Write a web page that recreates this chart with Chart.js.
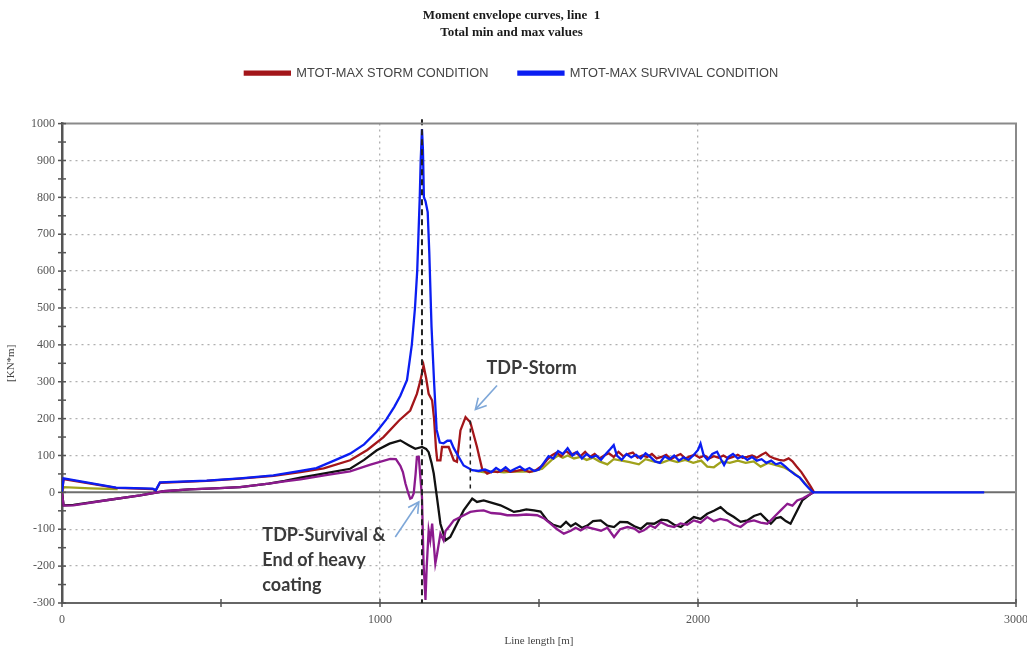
<!DOCTYPE html>
<html><head><meta charset="utf-8">
<script src="https://cdn.jsdelivr.net/npm/chart.js@4.4.1/dist/chart.umd.min.js"></script>
<style>html,body{margin:0;padding:0;background:#fff;}#wrap{width:1027px;height:654px;}</style>
</head><body><div id="wrap"><canvas id="c" width="1027" height="654"></canvas></div>
<script>
// ---- data: [line length (m), moment (kN*m)] ----
const stormMax = [[0,0],[5,36],[170,12],[285,9],[295,5],[308,26],[455,31],[560,37],[665,45],[750,55],[823,65],[906,87],[960,115],[1011,150],[1060,195],[1095,222],[1116,267],[1127,303],[1137,344],[1145,310],[1153,267],[1164,249],[1170,200],[1176,120],[1180,87],[1190,87],[1195,123],[1216,123],[1232,87],[1242,83],[1253,168],[1269,204],[1284,190],[1305,123],[1321,64],[1337,51],[1355,57],[1370,55],[1390,60],[1410,56],[1430,58],[1450,62],[1470,55],[1490,60],[1510,72],[1525,88],[1540,100],[1555,108],[1570,98],[1585,112],[1600,102],[1615,108],[1630,98],[1645,110],[1660,96],[1675,104],[1690,92],[1705,100],[1720,106],[1735,96],[1750,110],[1765,98],[1780,104],[1795,108],[1810,94],[1825,100],[1840,96],[1855,104],[1870,92],[1885,96],[1900,102],[1915,90],[1930,98],[1945,104],[1960,92],[1975,98],[1990,102],[2005,94],[2020,100],[2035,92],[2050,98],[2065,94],[2080,100],[2095,92],[2110,96],[2125,102],[2140,94],[2155,96],[2170,100],[2185,94],[2200,102],[2213,108],[2225,98],[2240,92],[2255,88],[2270,86],[2285,92],[2297,84],[2310,70],[2325,55],[2340,35],[2355,15],[2365,0]];
const survivalMax = [[0,0],[5,38],[170,13],[285,10],[295,6],[308,27],[455,32],[560,38],[665,46],[750,58],[800,66],[850,84],[906,105],[950,130],[990,165],[1020,198],[1045,232],[1064,262],[1085,305],[1100,400],[1110,500],[1117,600],[1121,700],[1125,800],[1128,900],[1132,985],[1135,930],[1138,800],[1143,790],[1150,760],[1155,650],[1162,450],[1170,300],[1178,170],[1188,135],[1200,133],[1212,140],[1222,140],[1232,120],[1245,100],[1263,73],[1290,60],[1310,58],[1330,62],[1350,55],[1365,66],[1380,58],[1395,68],[1410,57],[1425,64],[1440,70],[1455,60],[1470,66],[1485,58],[1500,62],[1515,80],[1530,98],[1545,92],[1560,112],[1575,104],[1590,120],[1605,100],[1620,110],[1635,92],[1650,104],[1665,95],[1680,100],[1695,88],[1710,104],[1725,118],[1735,128],[1745,100],[1760,88],[1775,104],[1790,95],[1805,102],[1820,92],[1835,106],[1850,96],[1865,84],[1880,80],[1895,98],[1910,90],[1925,100],[1940,86],[1955,95],[1970,88],[1985,100],[2000,115],[2008,132],[2018,100],[2030,88],[2045,104],[2060,110],[2072,90],[2082,74],[2095,96],[2110,104],[2125,92],[2140,98],[2155,88],[2170,96],[2185,86],[2200,90],[2215,80],[2230,86],[2245,76],[2260,80],[2275,70],[2290,58],[2305,48],[2320,40],[2335,24],[2350,10],[2362,0],[2900,0]];
const stormOther = [[0,0],[5,14],[90,11],[175,9],[176,null],[1300,58],[1330,54],[1360,57],[1390,54],[1420,57],[1450,56],[1480,57],[1510,64],[1540,88],[1560,100],[1575,94],[1590,100],[1610,92],[1630,96],[1650,88],[1670,94],[1690,84],[1715,76],[1735,90],[1760,86],[1785,82],[1814,76],[1835,90],[1860,84],[1885,80],[1910,88],[1935,82],[1960,88],[1985,80],[2010,86],[2029,70],[2050,68],[2075,84],[2100,80],[2125,86],[2150,80],[2175,84],[2197,70],[2220,80],[2245,74],[2270,68],[2295,56],[2320,40],[2345,16],[2363,0]];
const stormMin = [[0,0],[5,-35],[36,-34],[150,-20],[246,-8],[319,3],[400,8],[480,11],[560,14],[650,24],[700,31],[750,40],[830,52],[906,64],[950,88],[990,114],[1030,132],[1064,141],[1090,128],[1111,118],[1132,123],[1145,118],[1153,109],[1162,80],[1169,51],[1179,-13],[1190,-85],[1206,-130],[1221,-121],[1242,-85],[1263,-49],[1290,-17],[1305,-26],[1326,-22],[1350,-28],[1379,-35],[1400,-44],[1421,-53],[1440,-50],[1460,-46],[1484,-49],[1505,-52],[1526,-76],[1545,-88],[1568,-94],[1585,-80],[1600,-92],[1615,-84],[1635,-96],[1652,-90],[1670,-78],[1694,-76],[1715,-90],[1736,-94],[1755,-80],[1778,-81],[1800,-92],[1820,-99],[1840,-84],[1862,-85],[1885,-74],[1904,-76],[1925,-88],[1946,-94],[1966,-80],[1987,-67],[2008,-72],[2029,-58],[2050,-50],[2071,-40],[2092,-56],[2113,-67],[2134,-80],[2155,-76],[2176,-64],[2197,-58],[2213,-72],[2229,-85],[2245,-70],[2260,-67],[2276,-78],[2291,-85],[2302,-66],[2312,-49],[2328,-22],[2345,-10],[2362,0]];
const survivalMin = [[0,0],[5,-36],[36,-35],[150,-20],[246,-8],[319,3],[400,8],[480,11],[560,14],[650,24],[700,30],[750,35],[830,47],[906,57],[970,75],[1032,91],[1050,90],[1064,72],[1072,55],[1080,24],[1090,-5],[1095,-17],[1100,-15],[1106,-3],[1112,50],[1116,96],[1122,96],[1127,40],[1132,-13],[1137,-193],[1143,-292],[1147,-200],[1153,-103],[1158,-130],[1164,-85],[1170,-150],[1174,-193],[1179,-170],[1190,-112],[1200,-130],[1206,-105],[1220,-90],[1232,-76],[1253,-67],[1284,-53],[1305,-50],[1326,-49],[1350,-56],[1379,-58],[1400,-62],[1432,-62],[1460,-60],[1494,-62],[1515,-70],[1536,-85],[1557,-100],[1578,-112],[1600,-104],[1615,-96],[1631,-103],[1650,-94],[1673,-99],[1695,-104],[1715,-96],[1736,-121],[1755,-100],[1778,-94],[1800,-98],[1815,-108],[1830,-103],[1850,-90],[1865,-96],[1883,-81],[1905,-90],[1925,-94],[1945,-84],[1966,-88],[1987,-76],[2008,-82],[2029,-67],[2050,-78],[2070,-72],[2092,-76],[2113,-88],[2134,-94],[2155,-80],[2176,-76],[2197,-82],[2218,-85],[2240,-66],[2260,-49],[2281,-31],[2297,-36],[2312,-22],[2330,-16],[2344,-9],[2363,0]];

const titleLines = ['Moment envelope curves, line  1', 'Total min and max values'];
const seriesNames = ['MTOT-MAX STORM CONDITION', 'MTOT-MAX SURVIVAL CONDITION', 'storm other', 'storm min', 'survival min'];
const xTickValues = [0, 1000, 2000, 3000];
const yTickValues = [-300,-200,-100,0,100,200,300,400,500,600,700,800,900,1000];

// annotations in data units
const tdpLines = [ {x:1132, y0:1012, y1:-300, dash:[6,4], w:2}, {x:1284, y0:195, y1:5, dash:[4,4], w:1.5} ];
const noteTexts = [ {x:1335, y:336, lines:['TDP-Storm']}, {x:630, y:-117, lines:['TDP-Survival &','End of heavy','coating']} ];
const noteArrows = [ {from:[1368,290], to:[1300,225]}, {from:[1048,-121], to:[1122,-26]} ];

const toPts = a => a.map(p => ({x:p[0], y:p[1]}));
const colors = ['#a3161a', '#0b1ef2', '#a0a21c', '#111111', '#8c1a8e'];
const orders = [3, 0, 4, 2, 1];
const sets = [stormMax, survivalMax, stormOther, stormMin, survivalMin];

const decor = {
  id: 'decor',
  beforeInit(chart) {
    const lg = chart.legend;
    if (lg) { const f = lg.fit; lg.fit = function(){ f.call(this); this.height += 34; }; }
  },
  beforeDatasetsDraw(chart) {
    const {ctx, chartArea: a, scales: {y}} = chart;
    const y0 = y.getPixelForValue(0);
    ctx.save(); ctx.strokeStyle = '#6e6e6e'; ctx.lineWidth = 2;
    ctx.beginPath(); ctx.moveTo(a.left, y0); ctx.lineTo(a.right, y0); ctx.stroke(); ctx.restore();
  },
  afterDatasetsDraw(chart) {
    const {ctx, scales: {x, y}} = chart;
    ctx.save();
    tdpLines.forEach(l => {
      ctx.setLineDash(l.dash); ctx.lineWidth = l.w; ctx.strokeStyle = '#222';
      const px = x.getPixelForValue(l.x);
      ctx.beginPath(); ctx.moveTo(px, y.getPixelForValue(l.y0)); ctx.lineTo(px, y.getPixelForValue(l.y1)); ctx.stroke();
    });
    ctx.setLineDash([]);
    ctx.strokeStyle = '#7ea7d8'; ctx.lineWidth = 1.6;
    noteArrows.forEach(ar => {
      const x1 = x.getPixelForValue(ar.from[0]), y1 = y.getPixelForValue(ar.from[1]);
      const x2 = x.getPixelForValue(ar.to[0]), y2 = y.getPixelForValue(ar.to[1]);
      ctx.beginPath(); ctx.moveTo(x1, y1); ctx.lineTo(x2, y2); ctx.stroke();
      const ang = Math.atan2(y2 - y1, x2 - x1), hl = 12;
      ctx.beginPath();
      ctx.moveTo(x2 - hl*Math.cos(ang - 0.5), y2 - hl*Math.sin(ang - 0.5));
      ctx.lineTo(x2, y2);
      ctx.lineTo(x2 - hl*Math.cos(ang + 0.5), y2 - hl*Math.sin(ang + 0.5));
      ctx.stroke();
    });
    ctx.fillStyle = '#3a3a3a'; ctx.font = 'bold 18px Lato'; ctx.textBaseline = 'middle'; ctx.textAlign = 'left';
    noteTexts.forEach(n => {
      const px = x.getPixelForValue(n.x), py = y.getPixelForValue(n.y);
      n.lines.forEach((t, i) => ctx.fillText(t, px, py + i*25));
    });
    ctx.restore();
  },
  afterDraw(chart) {
    const {ctx, chartArea: a, scales: {x, y}} = chart;
    ctx.save();
    ctx.strokeStyle = '#8a8a8a'; ctx.lineWidth = 2;
    ctx.beginPath(); ctx.moveTo(a.left, a.top); ctx.lineTo(a.right, a.top); ctx.lineTo(a.right, a.bottom); ctx.stroke();
    ctx.strokeStyle = '#555'; ctx.lineWidth = 1.5;
    for (let v = -300; v <= 1000; v += 50) {
      const py = y.getPixelForValue(v);
      ctx.beginPath(); ctx.moveTo(a.left - 4, py); ctx.lineTo(a.left + 4, py); ctx.stroke();
    }
    for (let v = 0; v <= 3000; v += 500) {
      const px = x.getPixelForValue(v);
      ctx.beginPath(); ctx.moveTo(px, a.bottom - 4); ctx.lineTo(px, a.bottom + 4); ctx.stroke();
    }
    ctx.restore();
  }
};

new Chart(document.getElementById('c'), {
  type: 'line',
  data: {
    datasets: sets.map((s, i) => ({
      label: seriesNames[i], data: toPts(s), borderColor: colors[i], backgroundColor: colors[i],
      borderWidth: 2.3, pointRadius: 0, tension: 0, fill: false, order: orders[i], spanGaps: false
    }))
  },
  options: {
    responsive: false, animation: false, events: [],
    layout: { padding: { left: 7, right: 11, top: 0, bottom: 0 } },
    plugins: {
      title: { display: true, text: titleLines, color: '#1a1a1a',
        font: { family: 'Liberation Serif', size: 13, weight: 'bold', lineHeight: 1.3 }, padding: { top: 7, bottom: -4 } },
      legend: { display: true, position: 'top',
        labels: { boxWidth: 45, boxHeight: 3, padding: 30, color: '#444',
          font: { family: 'Liberation Sans', size: 12.8 },
          filter: it => it.datasetIndex < 2, sort: (p, q) => p.datasetIndex - q.datasetIndex } },
      tooltip: { enabled: false }
    },
    scales: {
      x: { type: 'linear', min: 0, max: 3000,
        afterFit: s => { s.height = 51; s.paddingRight = 0; s.paddingLeft = 0; },
        afterBuildTicks: s => { s.ticks = [0,500,1000,1500,2000,2500,3000].map(v => ({value: v})); },
        ticks: { autoSkip: false, maxRotation: 0, padding: 6, color: '#555',
          font: { family: 'Liberation Serif', size: 12 },
          callback: v => xTickValues.includes(v) ? String(v) : '' },
        grid: { drawTicks: true, tickLength: 4, tickColor: 'rgba(0,0,0,0)', lineWidth: 1.3,
          color: c => (c.tick && (c.tick.value === 1000 || c.tick.value === 2000)) ? '#b0b0b0' : 'rgba(0,0,0,0)' },
        border: { display: true, color: '#666', width: 2, dash: [2, 4] },
        title: { display: true, text: 'Line length [m]', color: '#444',
          font: { family: 'Liberation Serif', size: 11 }, padding: { top: 0, bottom: 6 } }
      },
      y: { type: 'linear', min: -300, max: 1000,
        afterFit: s => { s.width = 55; s.paddingTop = 0; s.paddingBottom = 0; },
        afterBuildTicks: s => { const t = []; for (let v = -300; v <= 1000; v += 50) t.push({value: v}); s.ticks = t; },
        ticks: { autoSkip: false, padding: 3, color: '#555',
          font: { family: 'Liberation Serif', size: 12 },
          callback: v => yTickValues.includes(v) ? String(v) : '' },
        grid: { drawTicks: true, tickLength: 4, tickColor: 'rgba(0,0,0,0)', lineWidth: 1.3,
          color: c => (c.tick && c.tick.value % 100 === 0 && c.tick.value > -300 && c.tick.value < 1000 && c.tick.value !== 0) ? '#b0b0b0' : 'rgba(0,0,0,0)' },
        border: { display: true, color: '#555', width: 2.5, dash: [2, 4] },
        title: { display: true, text: '[KN*m]', color: '#444',
          font: { family: 'Liberation Serif', size: 11 }, padding: { top: -2, bottom: 0 } }
      }
    }
  },
  plugins: [decor]
});
</script>
</body></html>
